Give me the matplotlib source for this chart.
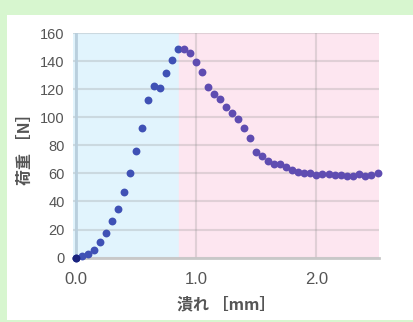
import numpy as np
import matplotlib.pyplot as plt
from matplotlib.patches import Rectangle

plt.rcParams['font.family'] = ['Liberation Sans', 'Noto Sans CJK JP', 'DejaVu Sans']

# load curve
x_up = [0.0, 0.05, 0.10, 0.15, 0.20, 0.25, 0.30, 0.35, 0.40, 0.45,
        0.50, 0.55, 0.60, 0.65, 0.70, 0.75, 0.80, 0.85]
y_up = [0.0, 1.2, 2.4, 5.5, 10.9, 17.3, 26.1, 34.9, 46.5, 60.1,
        76.2, 92.6, 112.0, 122.0, 120.6, 131.3, 140.8, 148.4]

x_down = [0.90, 0.95, 1.00, 1.05, 1.10, 1.15, 1.20, 1.25, 1.30, 1.35,
          1.40, 1.45, 1.50, 1.55, 1.60, 1.65, 1.70, 1.75, 1.80, 1.85,
          1.90, 1.95, 2.00, 2.05, 2.10, 2.15, 2.20, 2.25, 2.30, 2.35,
          2.40, 2.45, 2.51]
y_down = [148.4, 145.5, 139.3, 132.5, 121.8, 116.3, 113.0, 107.3, 102.8, 99.0,
          92.1, 85.0, 75.5, 72.6, 68.8, 66.5, 66.9, 64.8, 62.7, 61.2,
          60.5, 60.1, 59.1, 59.3, 59.3, 58.9, 59.1, 58.4, 58.4, 59.6,
          58.4, 59.1, 60.1]

split = 0.86
xticks = [0.0, 1.0, 2.0]
xtick_labels = ['0.0', '1.0', '2.0']
yticks = [0, 20, 40, 60, 80, 100, 120, 140, 160]

fig = plt.figure(figsize=(4.13, 3.22), dpi=100, facecolor='#d7f6cf')
fig.patches.append(Rectangle((7/413, 2/322), 1, 305/322, transform=fig.transFigure,
                             facecolor='white', edgecolor='none', zorder=-10))

ax = fig.add_axes([73/413, 64/322, 306/413, 225/322])
ax.set_facecolor('none')
ax.set_xlim(-0.025, 2.52)
ax.set_ylim(-0.3, 160)

# shaded regions
ax.axvspan(-0.025, split, color='#e1f4fd', zorder=0)
ax.axvspan(split, 2.52, color='#fde6f0', zorder=0)

ax.grid(True, color='#8c8c8c', alpha=0.25, linewidth=1.5, zorder=1)
ax.set_xticks(xticks)
ax.set_xticklabels(xtick_labels)
ax.set_yticks(yticks)
ax.tick_params(length=0, labelsize=10.5, labelcolor='#555555', pad=6)
ax.tick_params(axis='x', pad=10, labelsize=12)

for s in ['top', 'right']:
    ax.spines[s].set_visible(False)
ax.spines['left'].set_visible(False)
ax.axvline(0, color='#b9cfdd', linewidth=2, zorder=2)
ax.spines['bottom'].set_color('#c8c8c8')
ax.spines['bottom'].set_linewidth(2)

ax.scatter(x_up, y_up, s=32, color='#3f51b5', zorder=3, clip_on=False, linewidths=0)
ax.scatter(x_down, y_down, s=32, color='#5f4cb1', zorder=3, clip_on=False, linewidths=0)
ax.scatter(x_up[:1], y_up[:1], s=32, color='#1a237e', zorder=4, clip_on=False, linewidths=0)

ax.set_xlabel('潰れ ［mm］', fontsize=11.5, color='#555555', fontweight='bold',
              family=['Noto Sans CJK JP', 'DejaVu Sans'], labelpad=7)
ax.set_ylabel('荷重 ［N］', fontsize=11.5, color='#555555', fontweight='bold',
              family=['Noto Sans CJK JP', 'DejaVu Sans'], labelpad=5)

plt.savefig('out.png', dpi=100, facecolor=fig.get_facecolor())
